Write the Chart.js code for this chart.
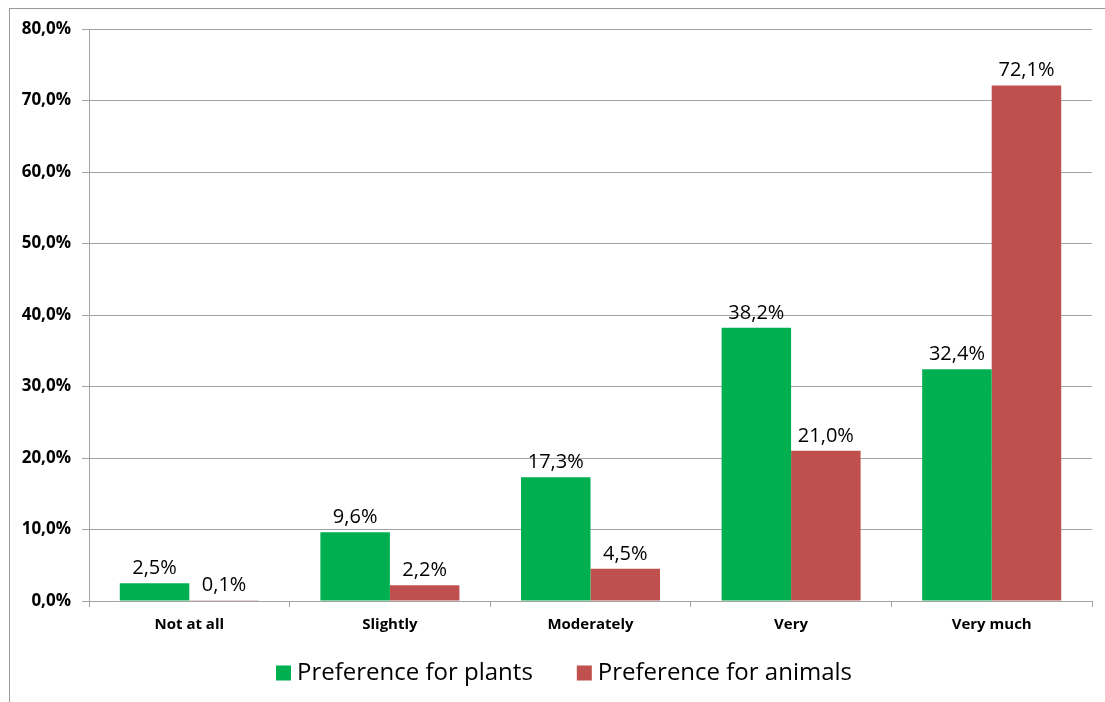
<!DOCTYPE html>
<html>
<head>
<meta charset="utf-8">
<script src="https://cdn.jsdelivr.net/npm/chart.js@4/dist/chart.umd.min.js"></script>
<style>
  html, body { margin: 0; padding: 0; background: #ffffff; }
  canvas { display: block; }
</style>
</head>
<body>
<canvas id="chart" width="1105" height="702"></canvas>
<script>
// Survey answers per category (percent of respondents)
const categories = ['Not at all', 'Slightly', 'Moderately', 'Very', 'Very much'];
const plantValues = [2.5, 9.6, 17.3, 38.2, 32.4];
const animalValues = [0.1, 2.2, 4.5, 21.0, 72.1];
const seriesNames = ['Preference for plants', 'Preference for animals'];
const yAxisMax = 80;
const yAxisStep = 10;

const GREEN = '#00B050';
const RED = '#C0504D';
const GRID = '#a3a3a3';
const FONT = '"Open Sans", Lato, "DejaVu Sans", sans-serif';

const pct = v => v.toFixed(1).replace('.', ',') + '%';

// White page with the outer frame line
const framePlugin = {
  id: 'frame',
  beforeDraw(chart) {
    const ctx = chart.ctx;
    ctx.save();
    ctx.fillStyle = '#ffffff';
    ctx.fillRect(0, 0, chart.width, chart.height);
    ctx.strokeStyle = '#9a9a9a';
    ctx.lineWidth = 1;
    ctx.strokeRect(9.5, 8.5, chart.width + 20, chart.height + 20);
    ctx.restore();
  }
};

// Value labels above every bar
const valueLabelPlugin = {
  id: 'valueLabels',
  afterDatasetsDraw(chart) {
    const ctx = chart.ctx;
    ctx.save();
    ctx.font = '20px ' + FONT;
    ctx.fillStyle = '#000000';
    ctx.textAlign = 'center';
    ctx.textBaseline = 'alphabetic';
    chart.data.datasets.forEach((ds, i) => {
      chart.getDatasetMeta(i).data.forEach((bar, j) => {
        ctx.fillText(pct(ds.data[j]), bar.x, bar.y - 9);
      });
    });
    ctx.restore();
  }
};

// Legend row under the axis
const legendPlugin = {
  id: 'bottomLegend',
  afterDraw(chart) {
    const ctx = chart.ctx;
    const box = 15, gapText = 6, gapItem = 44, cy = 673, centerX = 564;
    ctx.save();
    ctx.font = '24px ' + FONT;
    ctx.textBaseline = 'middle';
    ctx.textAlign = 'left';
    const items = chart.data.datasets.map(ds => ({
      text: ds.label, color: ds.backgroundColor, w: ctx.measureText(ds.label).width
    }));
    let total = 0;
    items.forEach((it, k) => { total += box + gapText + it.w + (k ? gapItem : 0); });
    let x = centerX - total / 2;
    items.forEach(it => {
      ctx.fillStyle = it.color;
      ctx.fillRect(x, cy - box / 2, box, box);
      ctx.fillStyle = '#000000';
      ctx.fillText(it.text, x + box + gapText, cy);
      x += box + gapText + it.w + gapItem;
    });
    ctx.restore();
  }
};

new Chart(document.getElementById('chart'), {
  type: 'bar',
  data: {
    labels: categories,
    datasets: [
      { label: seriesNames[0], data: plantValues, backgroundColor: GREEN, borderWidth: 0 },
      { label: seriesNames[1], data: animalValues, backgroundColor: RED, borderWidth: 0 }
    ]
  },
  options: {
    responsive: false,
    animation: false,
    devicePixelRatio: 1,
    layout: { padding: { left: 0, top: 29, right: 13, bottom: 56 } },
    datasets: { bar: { categoryPercentage: 0.693, barPercentage: 1.0 } },
    plugins: {
      legend: { display: false },
      tooltip: { enabled: false }
    },
    scales: {
      x: {
        afterFit(scale) { scale.height = 45; },
        grid: {
          offset: true,
          drawOnChartArea: false,
          drawTicks: true,
          tickLength: 6,
          color: GRID
        },
        border: { display: true, color: GRID },
        ticks: {
          padding: 9,
          color: '#000000',
          font: { family: FONT, size: 15, weight: 'bold' }
        }
      },
      y: {
        min: 0,
        max: yAxisMax,
        afterFit(scale) { scale.width = 89; },
        grid: { color: GRID, tickLength: 7, drawTicks: true },
        border: { display: true, color: GRID },
        ticks: {
          stepSize: yAxisStep,
          padding: 11,
          color: '#000000',
          font: { family: FONT, size: 17, weight: 'bold' },
          callback: v => pct(v)
        }
      }
    }
  },
  plugins: [framePlugin, valueLabelPlugin, legendPlugin]
});
</script>
</body>
</html>
